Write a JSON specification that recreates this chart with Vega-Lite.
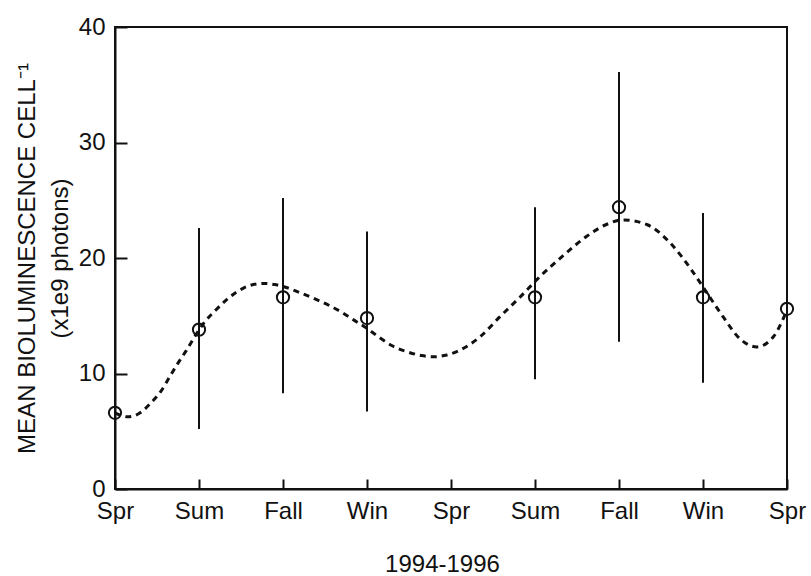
{
  "$schema": "https://vega.github.io/schema/vega-lite/v6.json",
  "width": 672,
  "height": 462,
  "autosize": "none",
  "padding": {"left": 115, "top": 27, "right": 24, "bottom": 87},
  "background": "white",
  "config": {
    "view": {"stroke": "#111", "strokeWidth": 2},
    "font": "Liberation Sans",
    "axis": {
      "domainColor": "#111", "domainWidth": 2, "tickColor": "#111", "tickWidth": 2,
      "labelColor": "#111", "titleColor": "#111", "labelFont": "Liberation Sans", "titleFont": "Liberation Sans",
      "labelFontSize": 24, "titleFontSize": 24, "titleFontWeight": "normal", "grid": false
    }
  },
  "datasets": {
    "obs": [
      {"idx": 0, "season": "Spr", "mean": 6.6},
      {"idx": 1, "season": "Sum", "mean": 13.8, "lo": 5.2, "hi": 22.6},
      {"idx": 2, "season": "Fall", "mean": 16.6, "lo": 8.3, "hi": 25.2},
      {"idx": 3, "season": "Win", "mean": 14.8, "lo": 6.7, "hi": 22.3},
      {"idx": 5, "season": "Sum", "mean": 16.6, "lo": 9.5, "hi": 24.4},
      {"idx": 6, "season": "Fall", "mean": 24.4, "lo": 12.75, "hi": 36.1},
      {"idx": 7, "season": "Win", "mean": 16.6, "lo": 9.2, "hi": 23.9},
      {"idx": 8, "season": "Spr", "mean": 15.6}
    ],
    "curve": [
      {"x": 0.0, "y": 6.6}, {"x": 0.15, "y": 6.25}, {"x": 0.3, "y": 6.6}, {"x": 0.42, "y": 7.4},
      {"x": 0.55, "y": 8.5}, {"x": 0.65, "y": 9.7}, {"x": 0.75, "y": 10.9}, {"x": 0.85, "y": 12.0},
      {"x": 0.95, "y": 13.2}, {"x": 1.05, "y": 14.3}, {"x": 1.2, "y": 15.5}, {"x": 1.33, "y": 16.4},
      {"x": 1.53, "y": 17.4}, {"x": 1.76, "y": 17.8}, {"x": 1.9, "y": 17.7}, {"x": 2.04, "y": 17.45},
      {"x": 2.2, "y": 17.0}, {"x": 2.4, "y": 16.4},
      {"x": 2.7, "y": 15.3}, {"x": 2.85, "y": 14.6}, {"x": 3.0, "y": 13.9}, {"x": 3.15, "y": 13.1},
      {"x": 3.3, "y": 12.4}, {"x": 3.47, "y": 11.9}, {"x": 3.65, "y": 11.55}, {"x": 3.8, "y": 11.45},
      {"x": 3.95, "y": 11.6}, {"x": 4.1, "y": 12.0}, {"x": 4.35, "y": 13.2}, {"x": 4.58, "y": 14.9},
      {"x": 4.82, "y": 16.6}, {"x": 5.06, "y": 18.4}, {"x": 5.35, "y": 20.3}, {"x": 5.62, "y": 21.9},
      {"x": 5.85, "y": 22.9}, {"x": 6.05, "y": 23.3}, {"x": 6.33, "y": 22.9}, {"x": 6.61, "y": 21.3},
      {"x": 6.85, "y": 19.1}, {"x": 7.0, "y": 17.5}, {"x": 7.24, "y": 14.9}, {"x": 7.44, "y": 13.0},
      {"x": 7.64, "y": 12.3}, {"x": 7.84, "y": 13.2}, {"x": 7.94, "y": 14.5}, {"x": 8.0, "y": 15.5}
    ]
  },
  "layer": [
    {
      "data": {"name": "curve"},
      "mark": {"type": "line", "interpolate": "monotone", "color": "#111", "strokeWidth": 3, "strokeDash": [6, 5]},
      "encoding": {
        "x": {
          "field": "x", "type": "quantitative",
          "scale": {"domain": [0, 8], "nice": false, "zero": false},
          "axis": {
            "values": [0, 1, 2, 3, 4, 5, 6, 7, 8],
            "labelExpr": "['Spr','Sum','Fall','Win','Spr','Sum','Fall','Win','Spr'][datum.value]",
            "tickSize": -10, "labelPadding": 20, "labelFlush": false, "labelOverlap": false,
            "title": "1994-1996", "titlePadding": 29, "titleX": 327
          }
        },
        "y": {
          "field": "y", "type": "quantitative",
          "scale": {"domain": [0, 40], "nice": false},
          "axis": {
            "values": [0, 10, 20, 30, 40],
            "tickSize": -12, "labelPadding": 22,
            "title": ["MEAN BIOLUMINESCENCE CELL⁻¹", "(x1e9 photons)"],
            "titleLineHeight": 33, "titleBaseline": "middle", "titleX": -88, "titleAngle": -90
          }
        }
      }
    },
    {
      "data": {"name": "obs"},
      "mark": {"type": "rule", "color": "#111", "strokeWidth": 2},
      "encoding": {
        "x": {"field": "idx", "type": "quantitative"},
        "y": {"field": "lo", "type": "quantitative"},
        "y2": {"field": "hi"}
      }
    },
    {
      "data": {"name": "obs"},
      "mark": {"type": "point", "shape": "circle", "filled": false, "color": "#111", "strokeWidth": 2, "size": 150, "opacity": 1},
      "encoding": {
        "x": {"field": "idx", "type": "quantitative"},
        "y": {"field": "mean", "type": "quantitative"}
      }
    }
  ]
}
